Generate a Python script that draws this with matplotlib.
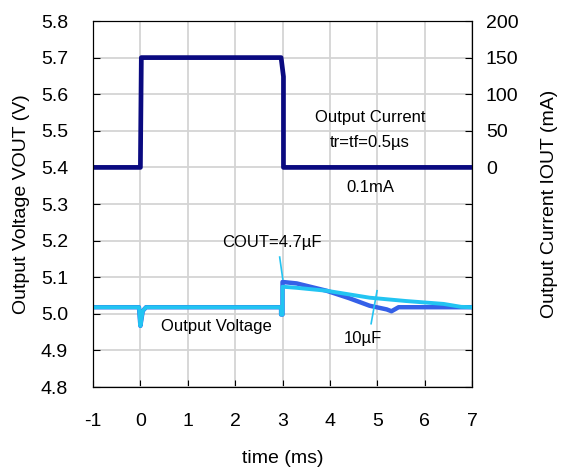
import matplotlib.pyplot as plt
import numpy as np

plt.rcParams['font.family'] = ['Liberation Sans', 'DejaVu Sans']
plt.rcParams['axes.unicode_minus'] = False

# Output current (mA), right axis
t_iout = [-1, 0.0, 0.02, 2.97, 3.02, 3.02, 7]
iout_mA = [0, 0, 150, 150, 124, 0, 0]

# Output voltage (V), COUT = 4.7uF
t_v47 = [-1, -0.03, 0.0, 0.05, 0.12, 2.97, 2.97, 3.0, 3.0, 3.3, 3.93, 4.4, 4.84, 5.2, 5.3, 5.45, 7]
v_47 = [5.018, 5.018, 4.967, 5.008, 5.018, 5.018, 4.998, 4.998, 5.087, 5.083, 5.063, 5.043, 5.022, 5.012, 5.007, 5.018, 5.018]

# Output voltage (V), COUT = 10uF
t_v10 = [-1, -0.03, 0.0, 0.05, 0.12, 2.97, 2.97, 3.0, 3.0, 3.3, 3.93, 4.84, 5.6, 6.4, 6.77, 7]
v_10 = [5.018, 5.018, 4.967, 5.008, 5.018, 5.018, 4.998, 4.998, 5.074, 5.071, 5.063, 5.044, 5.035, 5.027, 5.019, 5.018]

navy = '#0a0a80'
blue = '#3560e8'
cyan = '#22c4f2'

fig = plt.figure(figsize=(5.61, 4.73), dpi=100)
ax = fig.add_axes([0.1658, 0.1818, 0.6756, 0.7738])
ax2 = ax.twinx()

ax.plot(t_v10, v_10, color=cyan, lw=2.8, zorder=3)
ax.plot(t_v47, v_47, color=blue, lw=3.2, zorder=2)
ax2.plot(t_iout, iout_mA, color=navy, lw=3.4)

ax.set_xlim(-1, 7)
ax.set_ylim(4.8, 5.8)
ax2.set_ylim(-300, 200)
ax.set_xticks(np.arange(-1, 8, 1))
ax.set_yticks(np.arange(4.8, 5.81, 0.1))
ax.set_yticklabels([f'{v:.1f}' for v in np.arange(4.8, 5.81, 0.1)])
ax2.set_yticks(np.arange(-300, 201, 50))
ax2.set_yticklabels(['' if v < 0 else str(v) for v in range(-300, 201, 50)])

ax.grid(True, color='#d4d4d4', lw=1.3)
ax.set_axisbelow(True)
ax.tick_params(direction='in', labelsize=14, length=5, pad=18)
ax.tick_params(axis='x', pad=19)
ax2.tick_params(direction='in', labelsize=14, length=5, pad=10)

ax.set_xlabel('time (ms)', fontsize=14, labelpad=14)
ax.set_ylabel('Output Voltage VOUT (V)', fontsize=14, labelpad=8)
ax2.set_ylabel('Output Current IOUT (mA)', fontsize=14, labelpad=16)

# annotations
fs = 12
ax.text(4.85, 5.537, 'Output Current', fontsize=fs, ha='center', va='center')
ax.text(4.85, 5.469, 'tr=tf=0.5µs', fontsize=fs, ha='center', va='center')
ax.text(4.85, 5.346, '0.1mA', fontsize=fs, ha='center', va='center')
ax.text(2.77, 5.196, 'COUT=4.7µF', fontsize=fs, ha='center', va='center')
ax.text(1.6, 4.965, 'Output Voltage', fontsize=fs, ha='center', va='center')
ax.text(4.7, 4.932, '10µF', fontsize=fs, ha='center', va='center')
ax.plot([2.94, 3.005], [5.155, 5.095], color=cyan, lw=1.2, zorder=4)
ax.plot([4.87, 4.995], [4.973, 5.063], color=cyan, lw=1.2, zorder=4)

fig.savefig('out.png', dpi=100)
